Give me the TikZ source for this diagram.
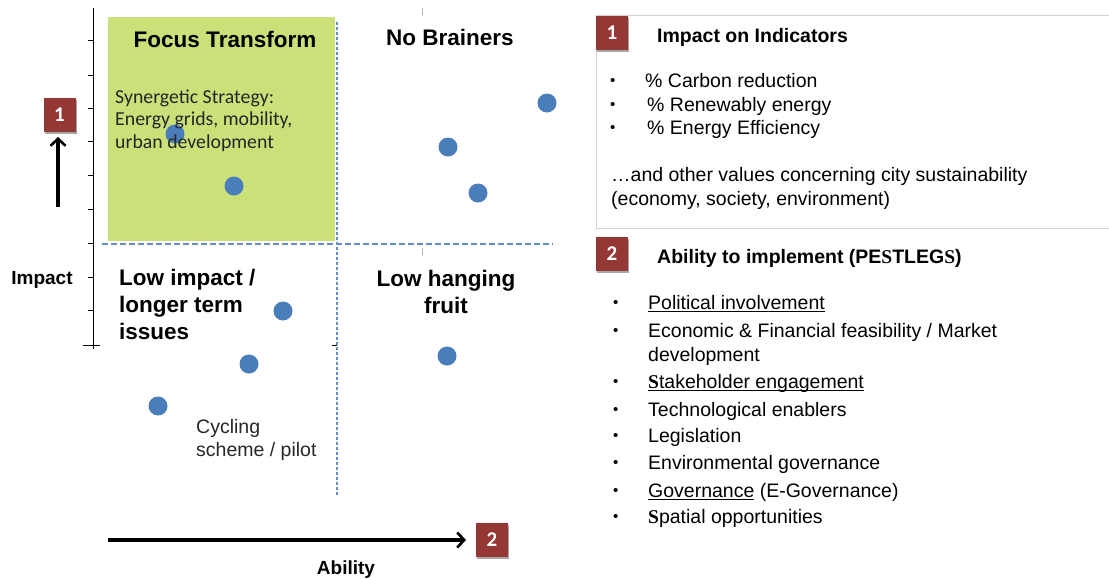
\documentclass[tikz,border=0pt]{standalone}
\usepackage{fontspec}
\setmainfont{Liberation Sans}
\newfontfamily\calfont{Carlito}
\newfontfamily\serfont{Liberation Serif}
\usetikzlibrary{arrows.meta,shadows}
\definecolor{badgered}{RGB}{149,55,53}
\definecolor{dotblue}{RGB}{74,126,187}
\definecolor{quadgreen}{RGB}{202,225,122}
\definecolor{dashblue}{RGB}{100,140,200}
\newcommand{\bS}{{\serfont\bfseries S}}
\newcommand{\bul}{\makebox[35pt][l]{\raisebox{1.8pt}{\fontsize{15}{15}\selectfont •}}}
\newcommand{\myul}[1]{\setbox0\hbox{#1}\rlap{\rule[-2.6pt]{\wd0}{0.8pt}}\box0\relax}
\begin{document}
\begin{tikzpicture}[x=1pt,y=-1pt,
  badge/.style={fill=badgered,text=white,minimum width=32pt,minimum height=34pt,inner sep=0pt,
    font=\calfont\bfseries\fontsize{21}{21}\selectfont,
    drop shadow={shadow xshift=1pt,shadow yshift=-2pt,opacity=0.35,fill=black}},
  dot/.style={circle,fill=dotblue,minimum size=19pt,inner sep=0pt},
  quadtitle/.style={font=\bfseries\fontsize{22.5}{27}\selectfont,inner sep=0pt,anchor=base},
  quadlbl/.style={font=\bfseries\fontsize{22.5}{27}\selectfont,inner sep=0pt,align=left,anchor=base west},
  body/.style={font=\fontsize{19.5}{24}\selectfont,inner sep=0pt,anchor=base west},
  bodyb/.style={font=\bfseries\fontsize{19.5}{24}\selectfont,inner sep=0pt,anchor=base west},
  axlbl/.style={font=\bfseries\fontsize{19}{23}\selectfont,inner sep=0pt,anchor=base},
  bigarrow/.style={line width=3.4pt,-{Straight Barb[length=7pt,width=15pt,line width=2.6pt]}},
  qdash/.style={dashblue,line width=1.3pt,dash pattern=on 6pt off 3pt},
  vdash/.style={dashblue,line width=1.3pt,dash pattern=on 3pt off 2pt},
  tick/.style={black,line width=0.9pt}
]
\useasboundingbox (0,0) rectangle (1109,579);

% green quadrant
\fill[quadgreen] (108,17) rectangle (335,241);

% axis
\draw[tick] (93,8) -- (93,349);
\foreach \yy in {40,75,108,141,175,209,243,277,310,345} \draw[tick] (88,\yy) -- (93,\yy);
\draw[tick] (83,345) -- (100,345);
\draw[gray!60,line width=0.8pt] (422,8) -- (422,15);
\draw[gray!60,line width=0.8pt] (422,248) -- (422,255);
\draw[black,line width=0.8pt] (332,345) -- (337,345);

% dashed quadrant lines
\draw[vdash] (337,22) -- (337,497);
\draw[qdash] (102,244) -- (553,244);

% quadrant titles
\node[quadtitle] (ft) at (225,47) {Focus Transform};
\node[quadtitle] (nb) at (450,45) {No Brainers};
\node[quadlbl] (li) at (119,339) {Low impact /\\longer term\\issues};
\node[quadtitle,align=center] (lh) at (446,313) {Low hanging\\fruit};

% dots
\node[dot] (d1) at (175,134) {};
\node[dot] (d2) at (234,186) {};
\node[dot] (d3) at (283,311) {};
\node[dot] (d4) at (249,364) {};
\node[dot] (d5) at (158,406) {};
\node[dot] (d6) at (448,147) {};
\node[dot] (d7) at (478,193) {};
\node[dot] (d8) at (547,103) {};
\node[dot] (d9) at (447,356) {};

% annotations
\node[font=\calfont\fontsize{19.8}{22.5}\selectfont,inner sep=0pt,align=left,anchor=base west,text=black!85] (syn) at (115,148)
  {Synergetic Strategy:\\Energy grids, mobility,\\urban development};
\node[font=\fontsize{19.5}{23}\selectfont,inner sep=0pt,align=left,anchor=base west,text=black!85] (cyc) at (196,456)
  {Cycling\\scheme / pilot};

% axes labels and arrows
\node[axlbl] (imp) at (42,284) {Impact};
\node[axlbl] (abl) at (346,574) {Ability};
\node[badge] (b1l) at (59.5,115) {1};
\node[badge] (b2b) at (492,539.5) {2};
\coordinate (ua) at (58,207);
\coordinate (ub) at (58,137);
\draw[bigarrow] (ua) -- (ub);
\coordinate (ra) at (108,540);
\coordinate (rb) at (466,540);
\draw[bigarrow] (ra) -- (rb);

% right panel, box 1
\draw[gray!35,line width=1pt] (1115,15) -- (596,15) -- (596,228) -- (1115,228);
\node[badge] (b1r) at (612,32.5) {1};
\node[bodyb] (t1) at (657,42) {Impact on Indicators};
\node[body] (p1) at (610,87) {\bul\% Carbon reduction};
\node[body] (p2) at (610,111) {\bul\hspace{2pt}\% Renewably energy};
\node[body] (p3) at (610,134) {\bul\hspace{2pt}\% Energy Efficiency};
\node[body,align=left] (p4) at (611,205) {\ldots and other values concerning city sustainability\\(economy, society, environment)};

% right panel, box 2
\node[badge] (b2r) at (612,254) {2};
\node[bodyb] (t2) at (657,263) {Ability to implement (PE\bS TLEG\bS)};
\node[body] (q1) at (613,309) {\bul\myul{Political involvement}};
\node[body,align=left] (q2) at (613,361) {\bul Economic \& Financial feasibility / Market\\\hspace{35pt}development};
\node[body] (q3) at (613,388) {\bul\myul{\bS takeholder engagement}};
\node[body] (q4) at (613,416) {\bul Technological enablers};
\node[body] (q5) at (613,442) {\bul Legislation};
\node[body] (q6) at (613,469) {\bul Environmental governance};
\node[body] (q7) at (613,497) {\bul\myul{Governance} (E-Governance)};
\node[body] (q8) at (613,523) {\bul\bS patial opportunities};
\end{tikzpicture}
\end{document}
